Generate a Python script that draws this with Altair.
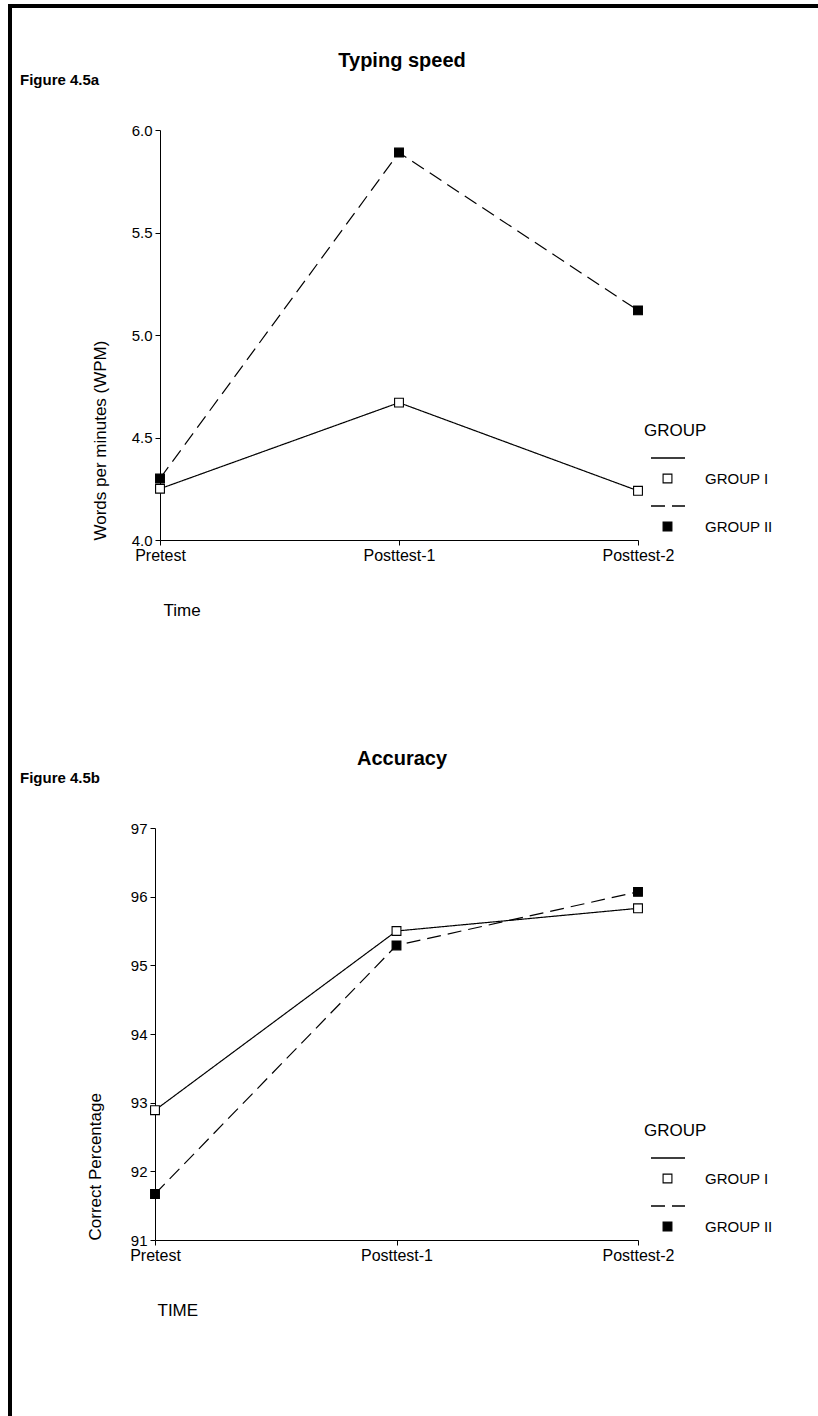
import altair as alt
import pandas as pd

# ---------------- data ----------------
time_points = ["Pretest", "Posttest-1", "Posttest-2"]
groups = ["GROUP I", "GROUP II"]

wpm_group1 = [4.25, 4.67, 4.24]
wpm_group2 = [4.30, 5.89, 5.12]
acc_group1 = [92.89, 95.50, 95.83]
acc_group2 = [91.67, 95.29, 96.07]

wpm_ticks = [4.0, 4.5, 5.0, 5.5, 6.0]
acc_ticks = [91, 92, 93, 94, 95, 96, 97]


def make_df(g1, g2):
    rows = []
    for grp, vals in zip(groups, [g1, g2]):
        for t, v in zip(time_points, vals):
            rows.append({"time": t, "group": grp, "group_pt": grp, "value": v})
    return pd.DataFrame(rows)


wpm_df = make_df(wpm_group1, wpm_group2)
acc_df = make_df(acc_group1, acc_group2)

FONT = "Liberation Sans"
X0 = 155          # common plot origin (absolute px)
W = 483           # plot width
BL = 8            # left border left edge
one = pd.DataFrame({"k": [0]})


def panel(df, ticks, dom, fmt, height, y0, x_range, axis_offset,
          title, fig_label, ytitle, xtitle, xtitle_x, top_border, y_start, y_end,
          leg_y):
    x_enc = alt.X(
        "time:N", sort=time_points,
        scale=alt.Scale(type="point", domain=time_points, range=x_range, padding=0),
        axis=alt.Axis(labelAngle=0, labelFontSize=16, labelColor="black", tickSize=5,
                      tickColor="black", domainColor="black", labelPadding=2,
                      title=xtitle, titleFontSize=17, titleFontWeight="normal",
                      titleColor="black", titleAnchor="start", titleAlign="left",
                      titleBaseline="middle", titleX=xtitle_x, titleY=70, grid=False),
    )
    y_enc = alt.Y(
        "value:Q",
        scale=alt.Scale(domain=dom, nice=False, zero=False),
        axis=alt.Axis(values=ticks, format=fmt, labelFontSize=15, labelColor="black",
                      tickSize=5, tickColor="black", domainColor="black", grid=False,
                      offset=axis_offset, labelPadding=3,
                      title=ytitle, titleFontSize=17, titleFontWeight="normal",
                      titleColor="black", titleAngle=-90, titleAlign="left",
                      titleBaseline="middle", titleX=-60, titleY=height),
    )
    lines = alt.Chart(df).mark_line(color="black", strokeWidth=1.2).encode(
        x=x_enc, y=y_enc,
        strokeDash=alt.StrokeDash(
            "group:N",
            scale=alt.Scale(domain=groups, range=[[1, 0], [14, 7]]),
            legend=alt.Legend(orient="none", legendX=489, legendY=leg_y,
                              title="GROUP", titleFontSize=17, titleFontWeight="normal",
                              titleColor="black", titlePadding=0, padding=0,
                              symbolType="stroke", symbolSize=1156, symbolStrokeWidth=1.3,
                              symbolStrokeColor="black", symbolOffset=6, rowPadding=25,
                              labelExpr="''"),
        ),
    )
    points = alt.Chart(df).mark_point(shape="square", filled=True, size=78,
                                      stroke="black", strokeWidth=1.1, opacity=1).encode(
        x=x_enc, y=y_enc,
        fill=alt.Fill(
            "group_pt:N",
            scale=alt.Scale(range=["white", "black"]),
            legend=alt.Legend(orient="none", legendX=505, legendY=leg_y + 48,
                              title=None, padding=0, symbolType="square", symbolSize=78,
                              symbolStrokeColor="black", symbolStrokeWidth=1.1,
                              symbolOpacity=1, labelFontSize=15, labelColor="black",
                              labelOffset=30, rowPadding=32),
        ),
    )
    left_border = alt.Chart(one).mark_rect(color="black").encode(
        x=alt.value(BL - X0), x2=alt.value(BL + 4 - X0),
        y=alt.value(y_start - y0), y2=alt.value(y_end - y0))
    layers = [left_border]
    if top_border:
        layers.append(alt.Chart(one).mark_rect(color="black").encode(
            x=alt.value(BL - X0), x2=alt.value(818 - X0),
            y=alt.value(4 - y0), y2=alt.value(8 - y0)))
    ttl = alt.Chart(one).mark_text(text=title, fontSize=20, fontWeight="bold",
                                   align="center", baseline="alphabetic",
                                   color="black").encode(
        x=alt.value(402 - X0), y=alt.value(-63))
    fig = alt.Chart(one).mark_text(text=fig_label, fontSize=15, fontWeight="bold",
                                   align="left", baseline="alphabetic",
                                   color="black").encode(
        x=alt.value(20 - X0), y=alt.value(-45))
    layers += [ttl, fig, lines, points]
    return alt.layer(*layers).properties(width=W, height=height)


top = panel(wpm_df, wpm_ticks, [4.0, 6.0], ".1f", 410, 130, [5, W], -5,
            "Typing speed", "Figure 4.5a", "Words per minutes (WPM)", "Time", 8,
            True, 4, 690, 293)
bottom = panel(acc_df, acc_ticks, [91, 97], "d", 412, 828, [0, W], 0,
               "Accuracy", "Figure 4.5b", "Correct Percentage", "TIME", 2,
               False, 690, 1416, 295)

chart = alt.vconcat(top, bottom, spacing=0).properties(
    padding={"left": BL, "top": 4, "right": 0, "bottom": 0}
).configure(font=FONT).configure_view(stroke=None).resolve_scale(
    strokeDash="independent", fill="independent")

chart.save("out.html", embed_options={"renderer": "svg", "actions": False})
